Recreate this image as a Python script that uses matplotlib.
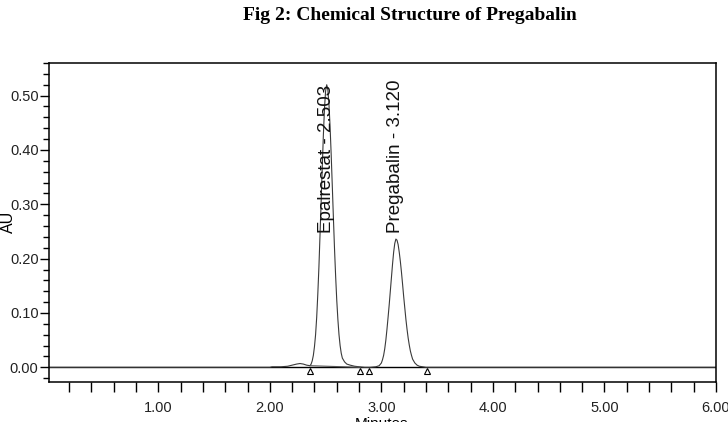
import numpy as np
import matplotlib
matplotlib.use("Agg")
import matplotlib.pyplot as plt

# chromatogram trace (minutes, AU)
trace_t = [0.02, 1.00, 2.00, 2.02, 2.10, 2.16, 2.20, 2.24, 2.27, 2.30, 2.33, 2.36,
           2.37, 2.38, 2.39, 2.40, 2.41, 2.42, 2.43, 2.44, 2.45, 2.46, 2.47, 2.48,
           2.49, 2.50, 2.51, 2.52, 2.53, 2.54, 2.55, 2.56, 2.57, 2.58, 2.59, 2.60,
           2.61, 2.62, 2.63, 2.64, 2.65, 2.67, 2.69, 2.72, 2.76, 2.80, 2.85, 2.90,
           2.95, 2.98, 3.00, 3.01, 3.02, 3.03, 3.04, 3.05, 3.06, 3.07, 3.08, 3.09,
           3.10, 3.11, 3.12, 3.13, 3.14, 3.15, 3.16, 3.17, 3.18, 3.19, 3.20, 3.21,
           3.22, 3.23, 3.24, 3.25, 3.26, 3.27, 3.28, 3.30, 3.32, 3.34, 3.37, 3.40,
           4.00, 5.00, 6.00]
trace_v = [0.000, 0.000, 0.000, 0.001, 0.001, 0.002, 0.004, 0.006, 0.007, 0.006, 0.004, 0.003,
           0.006, 0.012, 0.022, 0.038, 0.060, 0.092, 0.135, 0.185, 0.245, 0.305, 0.368, 0.428,
           0.477, 0.509, 0.520, 0.511, 0.484, 0.443, 0.391, 0.333, 0.274, 0.217, 0.167, 0.123,
           0.088, 0.060, 0.040, 0.026, 0.017, 0.010, 0.006, 0.004, 0.002, 0.001, 0.000, 0.000,
           0.001, 0.003, 0.008, 0.014, 0.022, 0.034, 0.050, 0.070, 0.092, 0.115, 0.140, 0.165,
           0.190, 0.212, 0.228, 0.236, 0.234, 0.226, 0.212, 0.195, 0.175, 0.153, 0.130, 0.109,
           0.088, 0.070, 0.054, 0.041, 0.030, 0.022, 0.015, 0.008, 0.004, 0.002, 0.001, 0.000,
           0.000, 0.000, 0.000]

# integration baseline under the first peak
base_t = [2.36, 2.81]
base_v = [0.003, 0.000]

# peak start / end marks
mark_t = [2.36, 2.81, 2.89, 3.41]

peak_t = [2.505, 3.125]
peak_lbl = ["Epalrestat - 2.503", "Pregabalin - 3.120"]

x_major = [1, 2, 3, 4, 5, 6]
x_labels = ["1.00", "2.00", "3.00", "4.00", "5.00", "6.00"]
y_major = [0.0, 0.1, 0.2, 0.3, 0.4, 0.5]
y_labels = ["0.00", "0.10", "0.20", "0.30", "0.40", "0.50"]

sans = ["Liberation Sans Narrow", "Liberation Sans", "DejaVu Sans"]

fig = plt.figure(figsize=(7.28, 4.22), dpi=100)
ax = fig.add_axes([49 / 728, 40 / 422, 667 / 728, 319 / 422])

ax.axhline(0, color="black", lw=1.0, zorder=1)
ax.plot(trace_t, trace_v, color="#3a3a3a", lw=0.8, zorder=2)
ax.plot(base_t, base_v, color="#555555", lw=0.8, zorder=2)
ax.plot(mark_t, [-0.0065] * len(mark_t), linestyle="none", marker="^",
        markersize=5, markerfacecolor="white", markeredgecolor="black",
        markeredgewidth=0.8, zorder=3)

for t, s in zip(peak_t, peak_lbl):
    ax.text(t, 0.247, s, rotation=90, ha="center", va="bottom",
            fontsize=13.5, family=["Liberation Sans", "DejaVu Sans"], color="#111111")

ax.set_xlim(0.02, 6.0)
ax.set_ylim(-0.027, 0.557)

ax.set_xticks(x_major)
ax.set_xticklabels(x_labels)
ax.set_xticks(np.arange(0.2, 6.0, 0.2), minor=True)
ax.set_yticks(y_major)
ax.set_yticklabels(y_labels)
ax.set_yticks(np.arange(-0.02, 0.56, 0.02), minor=True)

ax.tick_params(axis="x", which="both", direction="out", length=7, width=1, pad=7)
ax.tick_params(axis="y", which="major", direction="out", length=6.5, width=1, pad=1)
ax.tick_params(axis="y", which="minor", direction="out", length=4, width=1)
for lab in ax.get_xticklabels() + ax.get_yticklabels():
    lab.set_family(sans)
    lab.set_fontsize(10.5)
    lab.set_color("#222222")

for sp in ax.spines.values():
    sp.set_linewidth(1.1)

fig.text(8 / 728, 1 - 222 / 422, "AU", rotation=90, ha="center", va="center",
         fontsize=11.5, family=["Liberation Sans", "DejaVu Sans"])
fig.text(382 / 728, 1 - 417 / 422, "Minutes", ha="center", va="top",
         fontsize=11, family=sans)
fig.text(410 / 728, 1 - 15 / 422, "Fig 2: Chemical Structure of Pregabalin",
         ha="center", va="center", fontsize=14, fontweight="bold",
         family=["Liberation Serif", "DejaVu Serif"])

fig.savefig("out.png", dpi=100)
